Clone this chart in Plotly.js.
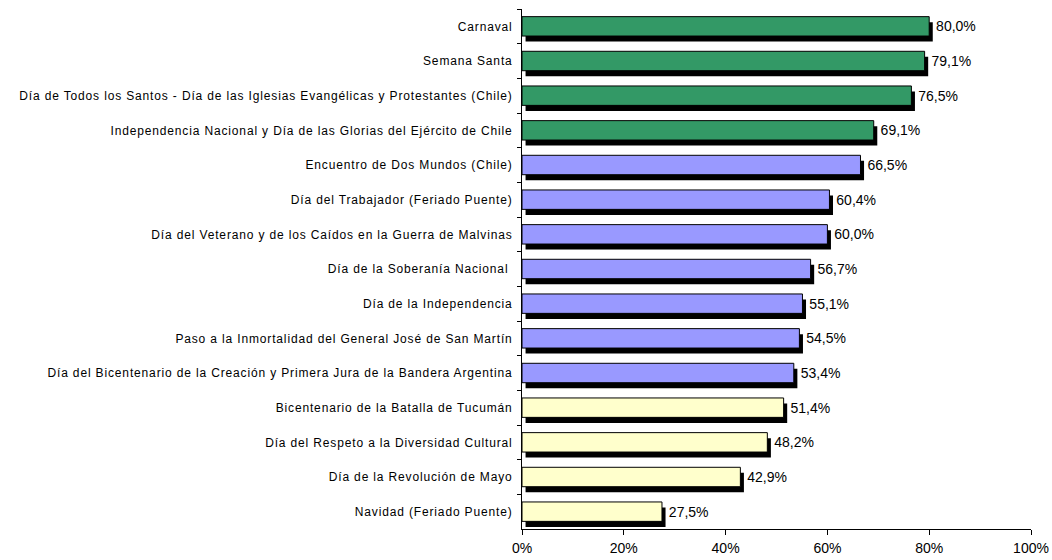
<!DOCTYPE html>
<html>
<head>
<meta charset="utf-8">
<script src="https://cdn.plot.ly/plotly-3.0.1.min.js"></script>
<style>
html,body{margin:0;padding:0;background:#fff;}
#chart{width:1052px;height:560px;}
#chart .ytick text{letter-spacing:0.85px;}
</style>
</head>
<body>
<div id="chart"></div>
<script>
const categories = [
  "Carnaval",
  "Semana Santa",
  "Día de Todos los Santos - Día de las Iglesias Evangélicas y Protestantes (Chile)",
  "Independencia Nacional y Día de las Glorias del Ejército de Chile",
  "Encuentro de Dos Mundos (Chile)",
  "Día del Trabajador (Feriado Puente)",
  "Día del Veterano y de los Caídos en la Guerra de Malvinas",
  "Día de la Soberanía Nacional ",
  "Día de la Independencia",
  "Paso a la Inmortalidad del General José de San Martín",
  "Día del Bicentenario de la Creación y Primera Jura de la Bandera Argentina",
  "Bicentenario de la Batalla de Tucumán",
  "Día del Respeto a la Diversidad Cultural",
  "Día de la Revolución de Mayo",
  "Navidad (Feriado Puente)"
];
const values = [80.0, 79.1, 76.5, 69.1, 66.5, 60.4, 60.0, 56.7, 55.1, 54.5, 53.4, 51.4, 48.2, 42.9, 27.5];
const groups = [1, 1, 1, 1, 2, 2, 2, 2, 2, 2, 2, 3, 3, 3, 3];
const xTickValues = [0, 20, 40, 60, 80, 100];
const xTickLabels = ["0%", "20%", "40%", "60%", "80%", "100%"];

const palette = {1: "#339966", 2: "#9999FF", 3: "#FFFFCC"};
const barColors = groups.map(g => palette[g]);
const labels = values.map(v => "\u00a0" + v.toFixed(1).replace(".", ",") + "%");

const W = 0.56;
const shadow = {
  type: "bar", orientation: "h",
  y: categories, x: values, base: 0.7,
  width: W, offset: -W / 2 + 0.16,
  marker: {color: "#000000", line: {width: 0}},
  hoverinfo: "skip", showlegend: false
};
const main = {
  type: "bar", orientation: "h",
  y: categories, x: values,
  width: W, offset: -W / 2,
  marker: {color: barColors, line: {color: "#000000", width: 1}},
  text: labels, textposition: "outside", cliponaxis: false,
  textfont: {family: "Liberation Sans, Arial, sans-serif", size: 14, color: "#000"},
  showlegend: false
};

const layout = {
  width: 1052, height: 560,
  margin: {l: 522, r: 21, t: 9, b: 31},
  paper_bgcolor: "#fff", plot_bgcolor: "#fff",
  barmode: "overlay",
  showlegend: false,
  font: {family: "Liberation Sans, Arial, sans-serif", color: "#000"},
  xaxis: {
    range: [0, 100], tickmode: "array", tickvals: xTickValues, ticktext: xTickLabels,
    showgrid: false, zeroline: false, showline: true, linecolor: "#000", linewidth: 1,
    ticks: "outside", ticklen: 5, tickcolor: "#000", ticklabelstandoff: 1,
    tickfont: {size: 14}
  },
  yaxis: {
    type: "category", autorange: "reversed",
    showgrid: false, zeroline: false, showline: true, linecolor: "#000", linewidth: 1,
    ticks: "outside", tickson: "boundaries", ticklen: 4, tickcolor: "#000",
    ticklabelstandoff: 6,
    tickfont: {size: 12}
  }
};

Plotly.newPlot("chart", [shadow, main], layout, {displayModeBar: false, staticPlot: true});
</script>
</body>
</html>
